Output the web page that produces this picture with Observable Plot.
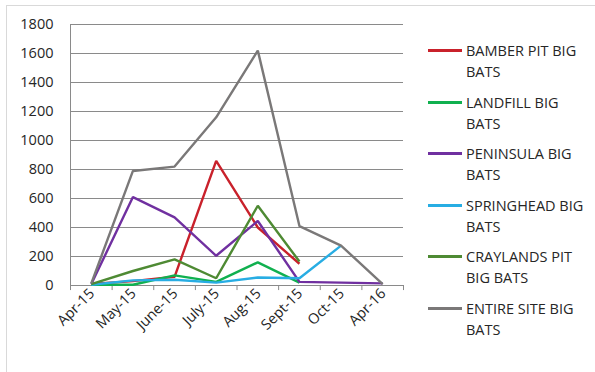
<!DOCTYPE html>
<html><head><meta charset="utf-8">
<script src="https://cdn.jsdelivr.net/npm/d3@7"></script>
<script src="https://cdn.jsdelivr.net/npm/@observablehq/plot@0.6"></script>
<style>
html,body{margin:0;padding:0;background:#fff;overflow:hidden;width:595px;height:372px;}
#wrap{position:relative;width:595px;height:372px;font-family:"Open Sans",sans-serif;}
#frame{position:absolute;left:6px;top:5px;width:620px;height:400px;border:1px solid #d9d9d9;box-sizing:border-box;}
#chart{position:absolute;left:0;top:0;}
#chart svg text{font-size:14.5px !important;font-family:"Open Sans",sans-serif;}
#legend{position:absolute;left:428px;top:0;}
.item{position:absolute;left:0;width:170px;}
.sw{position:absolute;left:0;width:34px;height:3px;}
.lt{position:absolute;left:38px;top:0;font-size:14.5px;line-height:21px;color:#262626;white-space:nowrap;}
</style></head>
<body><div id="wrap"><div id="frame"></div><div id="chart"></div><div id="legend"></div></div>
<script>
const categories = ["Apr-15","May-15","June-15","July-15","Aug-15","Sept-15","Oct-15","Apr-16"];
const seriesNames = ["BAMBER PIT BIG BATS","LANDFILL BIG BATS","PENINSULA BIG BATS","SPRINGHEAD BIG BATS","CRAYLANDS PIT BIG BATS","ENTIRE SITE BIG BATS"];
const legendLines = [["BAMBER PIT BIG","BATS"],["LANDFILL BIG","BATS"],["PENINSULA BIG","BATS"],["SPRINGHEAD BIG","BATS"],["CRAYLANDS PIT","BIG BATS"],["ENTIRE SITE BIG","BATS"]];
const colors = ["#c9212b","#10b04f","#7030a0","#28ade3","#4e8a33","#7a7878"];
const bamberPit  = [10, 30, 60, 860, 400, 150, null, null];
const landfill   = [5, 5, 70, 25, 160, 20, null, null];
const peninsula  = [10, 610, 470, 205, 445, 25, 20, 15];
const springhead = [5, 35, 40, 20, 55, 50, 275, null];
const craylands  = [10, 100, 180, 50, 550, 165, null, null];
const entireSite = [15, 790, 820, 1160, 1620, 410, 275, 10];
const yTicks = [0,200,400,600,800,1000,1200,1400,1600,1800];

const allSeries = [bamberPit, landfill, peninsula, springhead, craylands, entireSite];
const rows = [];
allSeries.forEach((vals, s) => vals.forEach((v, i) => { if (v != null) rows.push({series: seriesNames[s], i, value: v}); }));
const idx = categories.map((c, i) => i);
const bounds = [...idx.map(i => i - 0.5), categories.length - 0.5];

const chart = Plot.plot({
  width: 595, height: 372,
  marginLeft: 70, marginRight: 192, marginTop: 24, marginBottom: 87,
  style: {fontFamily: "Open Sans, sans-serif", fontSize: "14.5px", background: "transparent", color: "#262626"},
  x: {type: "linear", domain: [-0.5, categories.length - 0.5], axis: null},
  y: {type: "linear", domain: [0, 1800], axis: null},
  color: {domain: seriesNames, range: colors},
  marks: [
    Plot.ruleY(yTicks, {stroke: "#8a8a8a", strokeWidth: 1}),
    Plot.ruleX([-0.5], {stroke: "#8a8a8a"}),
    Plot.ruleX(bounds, {x: d => d, y1: 0, y2: -35, stroke: "#8a8a8a", strokeWidth: 1}),
    Plot.text(idx, {x: d => d, frameAnchor: "bottom", text: i => categories[i], rotate: -45, textAnchor: "end", dx: 4, dy: 9, fontSize: 14.5, fill: "#262626"}),
    Plot.text(yTicks, {y: d => d, frameAnchor: "left", text: d => String(d), textAnchor: "end", dx: -17, fontSize: 14.5, fill: "#262626"}),
    Plot.line(rows, {x: "i", y: "value", z: "series", stroke: "series", strokeWidth: 2.4, strokeLinejoin: "miter", strokeLinecap: "butt"})
  ]
});
document.getElementById("chart").appendChild(chart);
d3.select(chart).selectAll("text").style("font-size", "14.5px");

const leg = document.getElementById("legend");
legendLines.forEach((lines, k) => {
  const top = 40 + k * 51.6;
  const it = document.createElement("div");
  it.className = "item"; it.style.top = top + "px";
  it.innerHTML = `<div class="sw" style="top:9px;background:${colors[k]}"></div><div class="lt">${lines[0]}<br>${lines[1]}</div>`;
  leg.appendChild(it);
});
</script></body></html>
